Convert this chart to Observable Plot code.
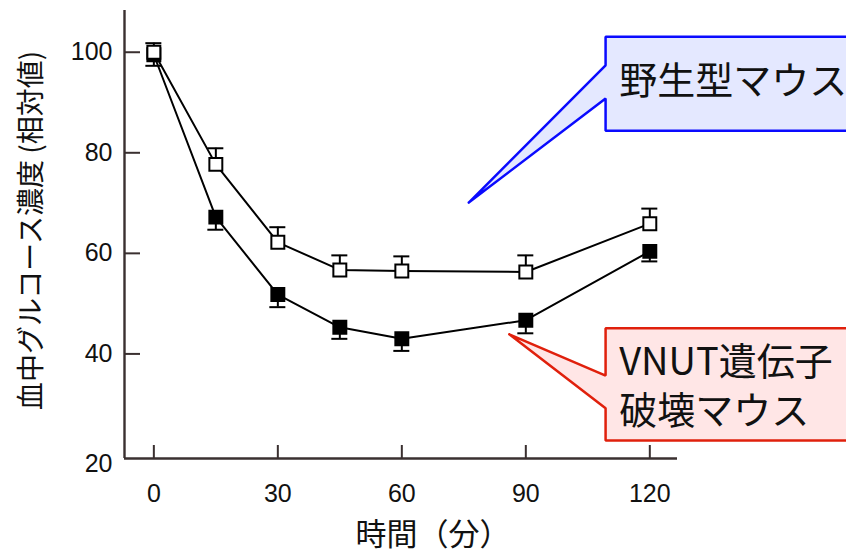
<!DOCTYPE html>
<html><head><meta charset="utf-8">
<script src="https://cdn.jsdelivr.net/npm/d3@7"></script>
<script src="https://cdn.jsdelivr.net/npm/@observablehq/plot@0.6"></script>
<style>html,body{margin:0;padding:0;background:#fff;overflow:hidden}#chart svg{display:block}</style>
</head><body><div id="chart"></div>
<script>
// ---- data ----
const times = [0, 15, 30, 45, 60, 90, 120];
const wildType = [100, 77.7, 62.2, 56.7, 56.5, 56.3, 65.9];
const wildTypeErr = [1.8, 3.2, 3.0, 2.9, 2.9, 3.3, 3.0];
const knockout = [99.5, 67.2, 51.8, 45.3, 43.0, 46.7, 60.4];
const knockoutErr = [2.2, 2.5, 2.5, 2.3, 2.4, 2.6, 2.0];
const xTicks = [0, 30, 60, 90, 120];
const yTicks = [20, 40, 60, 80, 100];
const xLabel = "時間（分）";
const yLabel = "血中グルコース濃度 (相対値)";
const wtName = "野生型マウス";
const koLines = ["VNUT遺伝子", "破壊マウス"];

// ---- layout ----
const W = 846, H = 554;
const mL = 124, mR = 169, mT = 10, mB = 96;
const xDom = [-7.1, 126.7], yDom = [19.2, 108.3];
const plotW = W - mL - mR, plotH = H - mT - mB;
const capHalf = 8 * (xDom[1] - xDom[0]) / plotW;
const axisColor = "#3a3030";
const latin = "'Liberation Sans', Arial, Helvetica, sans-serif";
const cjk = "'Noto Sans CJK JP', 'Noto Sans', sans-serif";
const tickFont = 25;

const wt = times.map((t, i) => ({t, v: wildType[i], e: wildTypeErr[i]}));
const ko = times.map((t, i) => ({t, v: knockout[i], e: knockoutErr[i]}));

// callout anchors in data units (tip, attach points, box)
const blueCallout = [[76.2,70.1],[109.3,97.4],[109.3,103.1],[180,103.1],[180,84.4],[109.3,84.4],[109.3,90.8],[76.2,70.1]]
  .map(([x,y]) => ({x,y}));
const redCallout = [[86,43.9],[109.3,35.7],[109.3,45.1],[180,45.1],[180,22.8],[109.3,22.8],[109.3,29.2],[86,43.9]]
  .map(([x,y]) => ({x,y}));
const koTextY = [38.2, 28.5];

const tickLabelY = {frameAnchor: "left", textAnchor: "end", dx: -12, text: d => String(d), fontSize: tickFont, fontFamily: latin, fill: "#111", clip: false};

const chart = Plot.plot({
  width: W, height: H,
  marginLeft: mL, marginRight: mR, marginTop: mT, marginBottom: mB,
  style: {background: "#fff", overflow: "visible"},
  x: {domain: xDom, axis: null},
  y: {domain: yDom, axis: null},
  marks: [
    // tick labels
    Plot.text(xTicks, {x: d => d, frameAnchor: "bottom", lineAnchor: "top", dy: 26, text: d => String(d), fontSize: tickFont, fontFamily: latin, fill: "#111", clip: false}),
    Plot.text(yTicks.filter(d => d > 20), {y: d => d, ...tickLabelY}),
    Plot.text(yTicks.filter(d => d === 20), {y: d => d, ...tickLabelY, dy: 10}),
    // tick marks (inward)
    Plot.tickX(xTicks, {x: d => d, insetTop: plotH - 13, stroke: axisColor, strokeWidth: 2}),
    Plot.tickY(yTicks.filter(d => d > 20), {y: d => d, insetRight: plotW - 16, stroke: axisColor, strokeWidth: 2}),
    // axis lines
    Plot.ruleX([xDom[0]], {stroke: axisColor, strokeWidth: 2.4}),
    Plot.ruleY([yDom[0]], {stroke: axisColor, strokeWidth: 2.4}),
    // axis titles
    Plot.text([yLabel], {frameAnchor: "left", textAnchor: "middle", dx: -92, rotate: -90, text: d => d, fontSize: 28, fontFamily: cjk, fill: "#111", dy: -4}),
    Plot.text([xLabel], {frameAnchor: "bottom", lineAnchor: "middle", dx: 32, dy: 77, text: d => d, fontSize: 31, fontFamily: cjk, fill: "#111"}),
    // series lines
    Plot.line(ko, {x: "t", y: "v", stroke: "#000", strokeWidth: 2}),
    Plot.line(wt, {x: "t", y: "v", stroke: "#000", strokeWidth: 2}),
    // knockout error bars (downward)
    Plot.ruleX(ko, {x: "t", y1: "v", y2: d => d.v - d.e, stroke: "#000", strokeWidth: 2}),
    Plot.ruleY(ko, {y: d => d.v - d.e, x1: d => d.t - capHalf, x2: d => d.t + capHalf, stroke: "#000", strokeWidth: 2}),
    Plot.dot(ko, {x: "t", y: "v", symbol: "square", r: 7.3, fill: "#000", stroke: "#000", strokeWidth: 2}),
    // wild type error bars (upward)
    Plot.ruleX(wt, {x: "t", y1: "v", y2: d => d.v + d.e, stroke: "#000", strokeWidth: 2}),
    Plot.ruleY(wt, {y: d => d.v + d.e, x1: d => d.t - capHalf, x2: d => d.t + capHalf, stroke: "#000", strokeWidth: 2}),
    Plot.dot(wt, {x: "t", y: "v", symbol: "square", r: 7.3, fill: "#fff", stroke: "#000", strokeWidth: 2}),
    // callouts
    Plot.line(blueCallout, {x: "x", y: "y", fill: "#e4e8ff", stroke: "#0a0aff", strokeWidth: 2.5, strokeLinejoin: "miter", clip: false}),
    Plot.text([wtName], {x: 112.6, y: 94.1, text: d => d, textAnchor: "start", fontSize: 38, fontFamily: cjk, fill: "#111", clip: false}),
    Plot.line(redCallout, {x: "x", y: "y", fill: "#ffe6e6", stroke: "#e0200c", strokeWidth: 2.5, strokeLinejoin: "miter", clip: false}),
    Plot.text(koLines, {x: 112.6, y: (d, i) => koTextY[i], text: d => d, textAnchor: "start", fontSize: 38, fontFamily: cjk, fill: "#111", clip: false})
  ]
});
document.getElementById("chart").appendChild(chart);
</script></body></html>
